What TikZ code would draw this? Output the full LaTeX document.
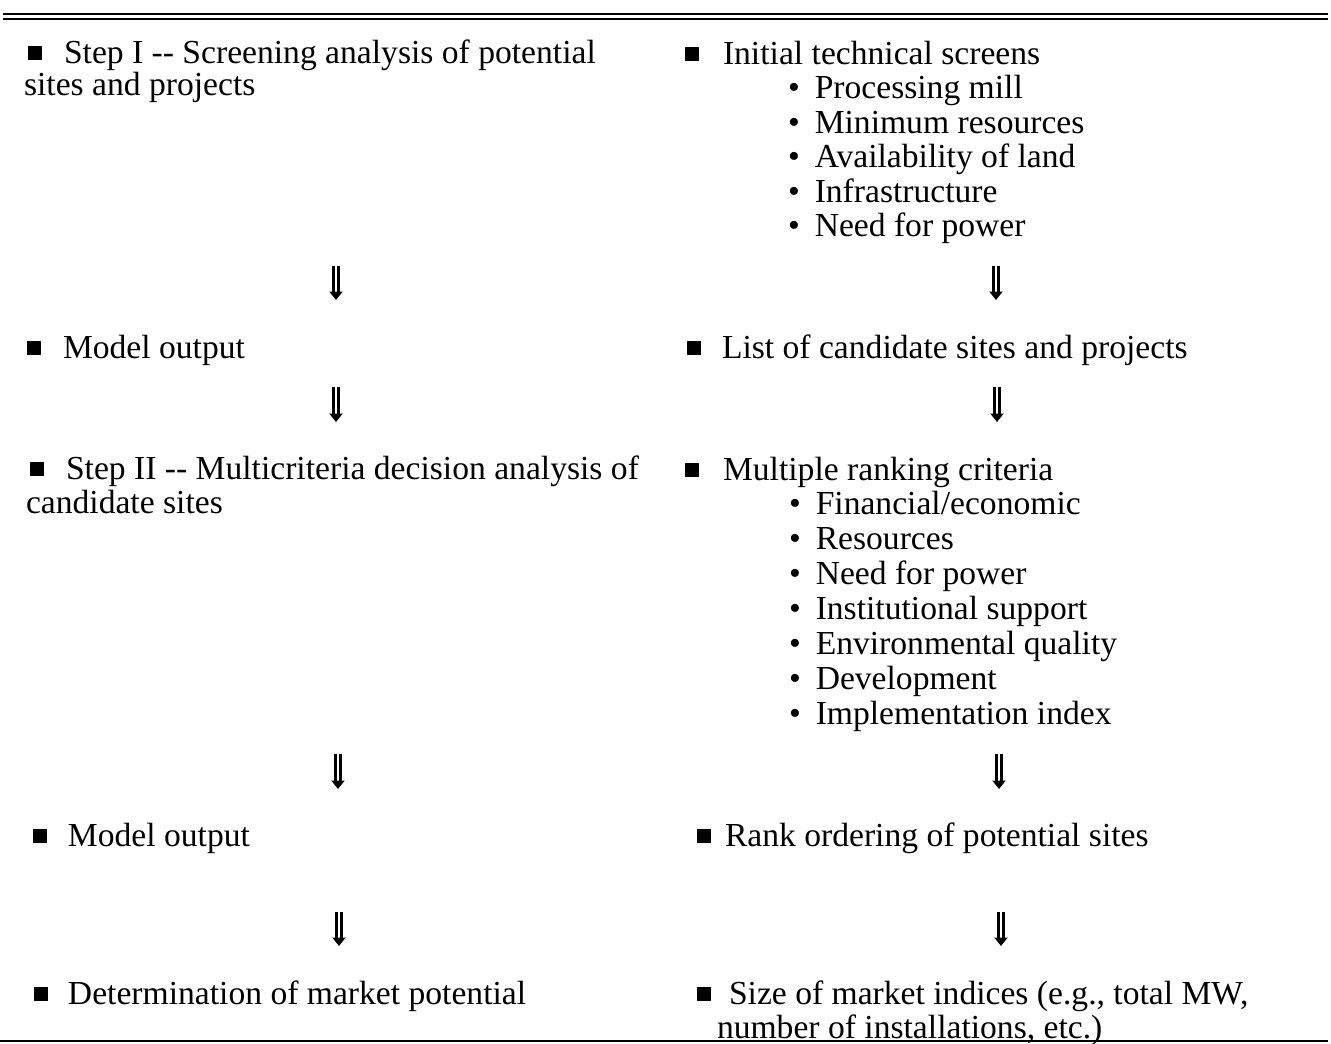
\documentclass[tikz,border=0pt]{standalone}
\usepackage{fontspec}
\setmainfont{Liberation Serif}
\usepackage{tikz}
\usetikzlibrary{arrows.meta,positioning}
\newcommand{\sqb}{\rule[3.4pt]{14pt}{14pt}}
\tikzset{
  item/.style={anchor=base west,inner sep=0pt,outer sep=0pt,align=flush left,
               font=\fontsize{33.6}{34.5}\selectfont},
  longitem/.style={item,text width=640pt},
  subitem/.style={item},
  dnarr/.style={-{Triangle[length=8.5pt,width=13pt]},double,double distance=2.6pt,
                line width=2.3pt,draw=black},
  toprule/.style={line width=2pt,draw=black},
  botrule/.style={line width=1.6pt,draw=black}
}

\begin{document}
\begin{tikzpicture}[x=1pt,y=-1pt]
    \path[use as bounding box] (0,0) rectangle (1331,1044);

    % rules
    \draw[toprule] (3,14) -- (1328,14);
    \draw[toprule] (3,18.5) -- (1328,18.5);
    \draw[botrule] (0,1041) -- (1328,1041);

    % left column
    \node[longitem] (stepI) at (24,63)
      {\hspace*{4pt}\sqb\hspace*{22pt}Step I -{}- Screening analysis of potential\\[-2pt]
       sites and projects};
    \node[item] (outI) at (27,358) {\sqb\hspace*{22pt}Model output};
    \node[longitem] (stepII) at (26,479)
      {\hspace*{4pt}\sqb\hspace*{22pt}Step II -{}- Multicriteria decision analysis of\\
       candidate sites};
    \node[item] (outII) at (33,846) {\sqb\hspace*{21pt}Model output};
    \node[item] (market) at (34,1004)
      {\sqb\hspace*{20pt}Determination of market potential};

    % right column
    \node[item] (screens) at (685,64) {\sqb\hspace*{24pt}Initial technical screens};
    \foreach \txt [count=\i] in {Processing mill,Minimum resources,
        Availability of land,Infrastructure,Need for power}
      \node[subitem] (scr\i) at (788,{64+34.5*\i}) {\textbullet\hspace*{15pt}\txt};
    \node[item] (cands) at (687,358)
      {\sqb\hspace*{21pt}List of candidate sites and projects};
    \node[item] (criteria) at (685,480) {\sqb\hspace*{24pt}Multiple ranking criteria};
    \foreach \txt [count=\i] in {Financial/economic,Resources,Need for power,
        Institutional support,Environmental quality,Development,Implementation index}
      \node[subitem] (crit\i) at (789,{480+34.9*\i}) {\textbullet\hspace*{15pt}\txt};
    \node[item] (rank) at (697,846) {\sqb\hspace*{14pt}Rank ordering of potential sites};
    \node[longitem] (indices) at (697,1004)
      {\sqb\hspace*{18pt}Size of market indices (e.g., total MW,\\
       \hspace*{20pt}number of installations, etc.)};

    % arrows
    \coordinate (aL1) at (336,266);  \coordinate (bL1) at (336,300);
    \coordinate (aL2) at (336,387);  \coordinate (bL2) at (336,422);
    \coordinate (aL3) at (338,754);  \coordinate (bL3) at (338,789);
    \coordinate (aL4) at (339,912);  \coordinate (bL4) at (339,946);
    \coordinate (aR1) at (996,266);  \coordinate (bR1) at (996,300);
    \coordinate (aR2) at (997,387);  \coordinate (bR2) at (997,422);
    \coordinate (aR3) at (999,754);  \coordinate (bR3) at (999,789);
    \coordinate (aR4) at (1001,912); \coordinate (bR4) at (1001,946);
    \draw[dnarr] (aL1) -- (bL1);
    \draw[dnarr] (aL2) -- (bL2);
    \draw[dnarr] (aL3) -- (bL3);
    \draw[dnarr] (aL4) -- (bL4);
    \draw[dnarr] (aR1) -- (bR1);
    \draw[dnarr] (aR2) -- (bR2);
    \draw[dnarr] (aR3) -- (bR3);
    \draw[dnarr] (aR4) -- (bR4);
\end{tikzpicture}
\end{document}
